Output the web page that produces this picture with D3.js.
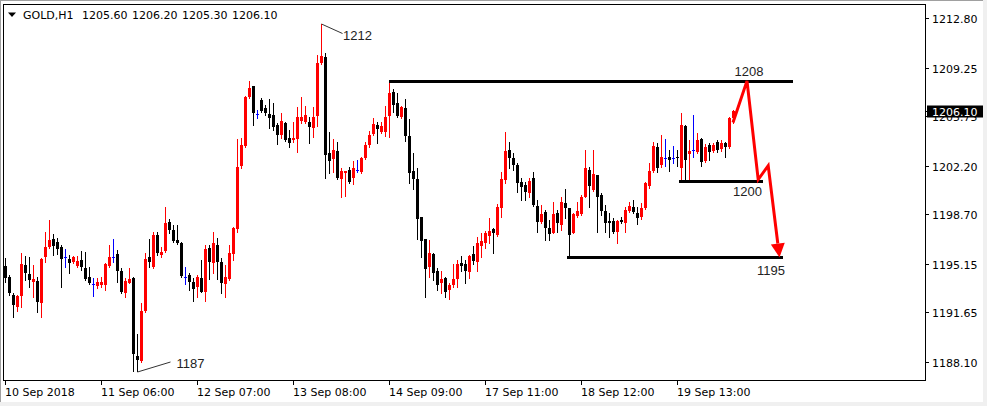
<!DOCTYPE html>
<html><head><meta charset="utf-8">
<script src="https://cdnjs.cloudflare.com/ajax/libs/d3/7.8.5/d3.min.js"></script>
<style>html,body{margin:0;padding:0;background:#fff;}svg{display:block;}</style>
</head><body>
<script>
const symbol = "GOLD,H1";
const open = [1194.98,1194.20,1192.90,1192.04,1192.83,1195.05,1194.41,1193.84,1193.91,1192.32,1195.63,1196.35,1196.92,1196.71,1196.35,1195.63,1195.48,1195.27,1194.98,1195.41,1194.84,1194.20,1193.69,1193.55,1193.62,1193.62,1194.98,1195.63,1195.84,1194.63,1193.04,1193.76,1194.12,1188.51,1188.15,1191.75,1195.63,1194.91,1197.21,1195.77,1196.06,1198.15,1197.57,1196.85,1196.63,1194.20,1194.34,1193.84,1193.48,1194.12,1193.12,1196.27,1195.19,1196.49,1195.27,1193.69,1194.05,1195.84,1197.64,1202.18,1203.62,1207.14,1207.94,1205.92,1206.93,1206.35,1205.92,1205.85,1205.13,1204.41,1205.27,1204.19,1204.05,1204.12,1205.42,1205.35,1205.35,1204.91,1205.78,1209.58,1210.02,1203.11,1202.68,1203.26,1201.24,1201.67,1201.89,1201.31,1201.89,1201.74,1202.76,1203.69,1204.48,1205.13,1204.62,1204.62,1205.78,1207.50,1206.71,1205.70,1206.35,1204.34,1201.82,1201.24,1198.51,1196.92,1194.91,1195.84,1194.63,1193.76,1194.12,1193.26,1193.62,1194.05,1195.19,1195.12,1194.55,1195.84,1195.27,1196.42,1196.63,1197.14,1197.64,1197.21,1199.16,1201.17,1203.33,1202.76,1202.25,1201.03,1200.81,1200.24,1201.31,1199.30,1198.15,1198.87,1197.71,1197.35,1198.79,1197.93,1199.52,1199.16,1197.35,1198.58,1198.72,1199.95,1201.89,1200.45,1201.53,1200.09,1198.94,1198.22,1198.22,1197.43,1198.29,1198.07,1198.94,1199.23,1198.79,1198.51,1199.16,1200.74,1201.82,1203.55,1202.25,1202.76,1202.83,1202.76,1202.83,1202.04,1205.06,1203.04,1203.33,1203.18,1204.12,1202.54,1203.69,1203.26,1203.91,1203.40,1203.83,1203.55,1205.60];
const high = [1195.55,1194.34,1193.04,1192.90,1195.91,1195.70,1195.63,1195.05,1194.20,1195.55,1197.43,1198.29,1197.28,1196.99,1196.49,1196.20,1195.77,1195.70,1195.70,1196.06,1195.99,1194.91,1194.12,1194.12,1194.20,1195.19,1196.49,1196.92,1196.13,1194.84,1194.12,1194.84,1194.20,1190.09,1192.32,1195.91,1196.92,1197.43,1197.43,1196.35,1199.23,1198.36,1197.93,1197.93,1196.71,1194.91,1194.48,1194.12,1194.34,1195.41,1196.49,1196.49,1197.43,1196.99,1195.55,1195.05,1196.49,1197.78,1204.12,1204.19,1207.22,1208.29,1207.94,1206.21,1207.07,1206.57,1207.00,1206.71,1205.27,1205.99,1205.35,1204.77,1205.35,1206.42,1207.14,1206.50,1205.70,1206.42,1210.16,1212.39,1210.31,1204.62,1204.12,1203.91,1202.04,1201.82,1202.11,1202.54,1202.61,1202.83,1203.91,1204.70,1205.63,1205.35,1205.35,1206.50,1208.20,1207.72,1207.43,1206.50,1207.00,1205.56,1203.11,1202.04,1198.51,1196.92,1196.85,1195.91,1194.84,1194.63,1194.20,1193.76,1195.12,1195.41,1195.70,1195.41,1195.77,1196.42,1197.07,1197.35,1197.50,1198.43,1197.71,1199.44,1201.74,1204.62,1203.91,1203.11,1202.40,1201.31,1201.03,1201.31,1201.74,1199.73,1199.37,1199.01,1198.29,1199.59,1199.01,1199.95,1200.52,1199.16,1198.79,1199.59,1200.09,1203.33,1202.11,1203.33,1201.53,1200.24,1199.37,1198.79,1198.43,1198.29,1198.51,1199.23,1199.59,1199.73,1199.23,1199.52,1201.03,1202.40,1203.91,1203.83,1204.41,1204.12,1203.33,1203.62,1203.33,1205.99,1205.13,1204.05,1205.85,1204.55,1204.19,1203.76,1203.83,1203.83,1204.05,1204.05,1203.91,1205.70,1206.20];
const low = [1193.84,1192.90,1191.32,1191.75,1192.04,1193.98,1193.48,1192.76,1191.68,1191.32,1195.27,1196.27,1195.77,1195.84,1193.48,1194.91,1194.48,1195.19,1194.91,1194.70,1193.98,1193.69,1192.83,1193.40,1193.48,1193.26,1194.91,1195.27,1193.84,1193.04,1192.76,1193.76,1187.43,1187.43,1188.08,1191.68,1194.91,1194.84,1195.77,1195.63,1195.99,1197.35,1196.71,1196.56,1194.20,1193.69,1193.26,1192.47,1192.76,1193.12,1192.47,1194.05,1194.48,1194.05,1193.04,1192.76,1193.98,1195.41,1197.43,1202.04,1203.55,1207.07,1205.13,1205.63,1206.06,1205.85,1204.91,1204.77,1203.76,1204.19,1203.98,1203.55,1203.91,1203.18,1205.27,1205.27,1203.83,1204.26,1205.06,1209.51,1201.31,1201.67,1201.74,1201.24,1199.95,1200.02,1200.96,1200.88,1201.74,1201.67,1202.68,1203.55,1204.41,1203.83,1204.55,1204.34,1204.26,1206.06,1205.70,1205.63,1203.98,1200.96,1200.52,1196.92,1195.63,1192.76,1194.20,1193.98,1193.26,1193.04,1192.76,1192.61,1193.48,1193.48,1194.63,1193.76,1194.12,1195.12,1194.63,1195.63,1196.27,1196.63,1195.91,1197.14,1198.51,1200.96,1202.04,1201.89,1200.31,1199.73,1199.73,1199.95,1199.30,1197.43,1198.07,1196.85,1196.85,1197.35,1197.43,1197.57,1198.43,1195.63,1197.35,1198.51,1198.65,1199.95,1199.23,1200.38,1197.43,1198.65,1197.43,1197.07,1197.35,1196.63,1198.07,1197.43,1198.87,1198.79,1198.00,1198.36,1199.09,1200.60,1201.74,1201.74,1202.11,1202.18,1201.82,1202.40,1202.18,1201.17,1201.17,1201.17,1202.83,1203.11,1202.18,1202.47,1202.61,1203.18,1203.18,1203.26,1202.83,1203.47,1205.30];
const close = [1194.12,1193.04,1192.18,1192.83,1195.12,1194.48,1193.98,1194.05,1192.40,1195.48,1196.35,1196.85,1196.42,1196.20,1195.48,1195.63,1195.19,1195.63,1195.34,1194.91,1194.05,1193.76,1193.69,1193.84,1193.84,1195.12,1195.63,1195.63,1194.63,1193.12,1193.91,1194.05,1188.65,1188.22,1191.75,1195.48,1195.27,1197.21,1195.91,1195.99,1198.07,1197.57,1196.78,1196.63,1194.27,1194.20,1193.84,1193.33,1194.20,1193.12,1196.20,1195.27,1196.63,1195.27,1193.76,1194.20,1195.91,1197.71,1202.11,1203.69,1207.14,1207.79,1205.99,1205.92,1206.14,1205.99,1205.63,1204.98,1204.41,1205.42,1204.05,1203.83,1204.19,1205.70,1205.70,1205.85,1204.98,1205.70,1209.58,1210.09,1202.97,1202.54,1203.33,1201.31,1201.82,1201.82,1201.03,1202.04,1201.89,1202.76,1203.69,1204.41,1205.20,1204.84,1205.06,1205.70,1207.43,1206.57,1205.78,1206.42,1204.34,1201.67,1201.24,1198.36,1196.78,1194.77,1195.91,1194.48,1193.62,1194.05,1193.12,1193.62,1194.05,1195.12,1194.98,1194.63,1195.70,1195.34,1196.63,1196.78,1197.35,1197.50,1197.35,1199.23,1201.24,1203.26,1202.76,1202.25,1200.96,1200.67,1200.31,1201.10,1199.37,1198.15,1198.72,1197.71,1197.28,1198.72,1198.07,1199.59,1199.16,1197.21,1198.72,1198.94,1199.95,1202.04,1200.74,1201.60,1199.95,1198.94,1198.07,1198.07,1197.43,1198.22,1198.15,1199.01,1199.30,1198.87,1198.43,1199.16,1200.96,1201.82,1203.62,1202.04,1202.83,1202.76,1202.61,1202.76,1202.76,1205.13,1202.61,1203.26,1203.33,1204.05,1202.47,1203.55,1203.18,1203.69,1203.33,1203.83,1203.55,1205.63,1206.10];

const yTicks = [1212.80, 1209.25, 1205.75, 1202.20, 1198.70, 1195.15, 1191.65, 1188.10];
const xTickBars = [0, 24, 48, 72, 96, 120, 144, 168];
const xTickLabels = ["10 Sep 2018", "11 Sep 06:00", "12 Sep 07:00", "13 Sep 08:00", "14 Sep 09:00", "17 Sep 11:00", "18 Sep 12:00", "19 Sep 13:00"];

// horizontal levels
const levelStart = [96, 168.5, 140.5];
const levelEnd = [197, 189.6, 194.4];
const levelPrice = [1208.27, 1201.08, 1195.62];
const levelLabel = ["1208", "1200", "1195"];
const levelLabelBar = [186, 185.6, 191.5];

// projected path (bar, price)
const arrowBars = [182, 185.5, 188.3, 190.8, 193.2];
const arrowPrices = [1205.3, 1208.3, 1201.2, 1202.2, 1196.6];

const W = 987, H = 406;
const plot = {l: 3.5, t: 4.5, r: 925.5, b: 380.5};

const x = d3.scaleLinear().domain([0, 230]).range([5, 925]);
const y = d3.scaleLinear().domain([1188.10, 1212.80]).range([361.7, 18.3]);

const svg = d3.select("body").append("svg").attr("width", W).attr("height", H)
  .style("font-family", "'DejaVu Sans', Verdana, sans-serif");

// window frame
svg.append("rect").attr("x",0).attr("y",0).attr("width",W).attr("height",H).attr("fill","#fff");
svg.append("rect").attr("x",0).attr("y",H-4).attr("width",W).attr("height",4).attr("fill","#f0f0f0");
svg.append("rect").attr("x",W-4).attr("y",0).attr("width",4).attr("height",H).attr("fill","#f0f0f0");
svg.append("line").attr("x1",0).attr("x2",W-4).attr("y1",0.5).attr("y2",0.5).attr("stroke","#a0a0a0");
svg.append("line").attr("x1",0.5).attr("x2",0.5).attr("y1",0).attr("y2",H-4).attr("stroke","#a0a0a0");

svg.append("clipPath").attr("id","clip").append("rect")
  .attr("x", plot.l).attr("y", plot.t).attr("width", plot.r-plot.l).attr("height", plot.b-plot.t);

const g = svg.append("g").attr("clip-path","url(#clip)").attr("shape-rendering","crispEdges");

const idx = d3.range(open.length);
function col(i){ return open[i] === close[i] ? "#0000ff" : (close[i] > open[i] ? "#ff0000" : "#000000"); }

g.selectAll("rect.wick").data(idx).join("rect").attr("class","wick")
  .attr("x", i => Math.round(x(i)))
  .attr("width", 1)
  .attr("y", i => Math.round(y(high[i])))
  .attr("height", i => Math.max(1, Math.round(y(low[i])) - Math.round(y(high[i])) + 1))
  .attr("fill", col);
g.selectAll("rect.body").data(idx).join("rect").attr("class","body")
  .attr("x", i => Math.round(x(i)) - 1)
  .attr("width", 3)
  .attr("y", i => Math.round(y(Math.max(open[i], close[i]))))
  .attr("height", i => Math.max(1, Math.round(y(Math.min(open[i], close[i]))) - Math.round(y(Math.max(open[i], close[i])))))
  .attr("fill", col);

g.selectAll("line.level").data(levelPrice).join("line").attr("class","level")
  .attr("x1", (d,k) => x(levelStart[k])).attr("x2", (d,k) => x(levelEnd[k]))
  .attr("y1", d => Math.round(y(d)) + 0.5).attr("y2", d => Math.round(y(d)) + 0.5)
  .attr("stroke", "#000").attr("stroke-width", 3);

const ann = svg.append("g").style("font-family","'Liberation Sans', Arial, sans-serif").style("font-size","13px").attr("fill","#222");
ann.selectAll("text.lv").data(levelLabel).join("text").attr("class","lv")
  .attr("x", (d,k) => x(levelLabelBar[k]))
  .attr("y", (d,k) => k === 0 ? y(levelPrice[k]) - 5 : y(levelPrice[k]) + 15 + (k===2?3:0))
  .attr("text-anchor","middle").text(d => d);

const hiBar = d3.maxIndex(high), loBar = d3.minIndex(low.slice(0, 40));
const hx = Math.round(x(hiBar)) + 0.5, hy = y(high[hiBar]);
svg.append("line").attr("x1",hx).attr("y1",hy).attr("x2",hx+21).attr("y2",hy+9.5).attr("stroke","#333").attr("stroke-width",1);
ann.append("text").attr("x",hx+21.5).attr("y",hy+16).text(Math.floor(high[hiBar]));
const lx = Math.round(x(loBar+1)) + 0.5, ly = y(low[loBar]) + 1;
svg.append("line").attr("x1",lx).attr("y1",ly).attr("x2",lx+33).attr("y2",ly-10).attr("stroke","#333").attr("stroke-width",1);
ann.append("text").attr("x",lx+39).attr("y",ly-4).text(Math.floor(low[loBar]));

const pts = arrowBars.map((b,k) => [x(b), y(arrowPrices[k])]);
svg.append("path").attr("d", d3.line()(pts)).attr("fill","none").attr("stroke","#ff0000").attr("stroke-width",3).attr("stroke-linejoin","miter");
const a = pts[pts.length-2], bpt = pts[pts.length-1];
const dx = bpt[0]-a[0], dy = bpt[1]-a[1], len = Math.hypot(dx,dy), ux = dx/len, uy = dy/len;
const tip = [bpt[0]+ux*14, bpt[1]+uy*14];
svg.append("path").attr("d", `M${bpt[0]+uy*7},${bpt[1]-ux*7}L${tip[0]},${tip[1]}L${bpt[0]-uy*7},${bpt[1]+ux*7}Z`).attr("fill","#ff0000");

svg.append("rect").attr("x",plot.l).attr("y",plot.t).attr("width",plot.r-plot.l).attr("height",plot.b-plot.t)
  .attr("fill","none").attr("stroke","#000").attr("shape-rendering","crispEdges");

const ya = svg.append("g").style("font-size","11px").attr("fill","#000");
yTicks.forEach(v => {
  const yy = Math.round(y(v)) + 0.5;
  ya.append("line").attr("x1",plot.r).attr("x2",plot.r+3.5).attr("y1",yy).attr("y2",yy).attr("stroke","#000").attr("shape-rendering","crispEdges");
  ya.append("text").attr("x",932).attr("y",yy+4).text(v.toFixed(2));
});
const last = close[close.length-1];
const cy = Math.round(y(last)) + 0.5;
ya.append("line").attr("x1",plot.r).attr("x2",plot.r+3.5).attr("y1",cy).attr("y2",cy).attr("stroke","#000").attr("shape-rendering","crispEdges");
ya.append("rect").attr("x",927).attr("y",cy-6).attr("width",56).attr("height",12).attr("fill","#000");
ya.append("text").attr("x",932).attr("y",cy+4).attr("fill","#fff").text(last.toFixed(2));

const xa = svg.append("g").style("font-size","11px").attr("fill","#000");
xTickBars.forEach((b,k) => {
  const xx = Math.round(x(b)) + 0.5;
  xa.append("line").attr("x1",xx).attr("x2",xx).attr("y1",plot.b).attr("y2",plot.b+4).attr("stroke","#000").attr("shape-rendering","crispEdges");
  xa.append("text").attr("x",xx-0.5).attr("y",395.5).text(xTickLabels[k]);
});

// header
const n = open.length-1;
svg.append("path").attr("d","M8,12.5L16,12.5L12,17Z").attr("fill","#000");
const hdr = svg.append("g").style("font-size","11px").attr("fill","#000");
hdr.append("text").attr("x",23).attr("y",18.5).text(symbol);
[open[n], high[n], low[n], close[n]].forEach((v,k) => {
  hdr.append("text").attr("x",82 + k*50).attr("y",18.5).text(v.toFixed(2));
});
</script>
</body></html>
